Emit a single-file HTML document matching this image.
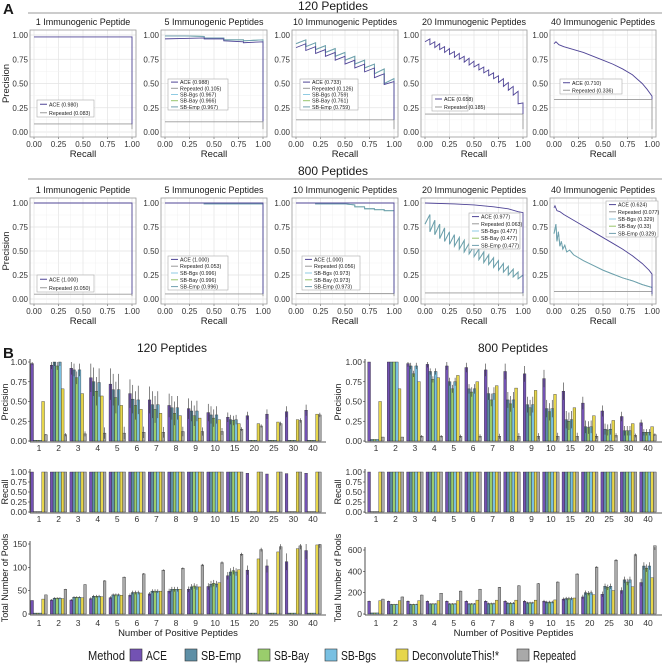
<!DOCTYPE html>
<html><head><meta charset="utf-8">
<style>
html,body{margin:0;padding:0;background:#fff;}
svg{display:block;font-family:"Liberation Sans",Arial,sans-serif;}
</style></head>
<body>
<svg id="fig" width="666" height="663" viewBox="0 0 666 663" xmlns="http://www.w3.org/2000/svg"></svg>
<script>
// ================= DATA: Panel A (precision-recall curves) =================
const aTitles = ["1 Immunogenic Peptide","5 Immunogenic Peptides","10 Immunogenic Peptides","20 Immunogenic Peptides","40 Immunogenic Peptides"];
const aTicks = [0, 0.25, 0.5, 0.75, 1];
const aTickLabels = ["0.00","0.25","0.50","0.75","1.00"];

// row 1 (120 peptides)
const r1Repeated = [0.083, 0.105, 0.126, 0.185, 0.336];
const r1p1Ace = [[0,0.98],[1,0.98],[1,0.08]];
const r1p2Ace = [[0,0.96],[0.2,0.965],[0.4,0.97],[0.4,0.96],[0.6,0.96],[0.6,0.94],[0.8,0.93],[0.8,0.92],[1,0.93],[1,0.11]];
const r1p2Sb = [[0,0.99],[0.2,0.99],[0.4,0.985],[0.4,0.97],[0.6,0.97],[0.6,0.95],[0.8,0.95],[0.8,0.94],[1,0.95],[1,0.11]];
const r1p3AceTops = [0.91,0.88,0.85,0.82,0.78,0.74,0.70,0.66,0.60,0.52];
const r1p3AceBots = [0.87,0.84,0.81,0.78,0.74,0.70,0.66,0.62,0.56,0.49];
const r1p3SbTops = [0.95,0.92,0.89,0.86,0.82,0.78,0.74,0.70,0.65,0.55];
const r1p3SbBots = [0.91,0.88,0.85,0.82,0.78,0.74,0.70,0.66,0.60,0.50];
const r1p4AceTops = [0.96,0.93,0.91,0.88,0.86,0.83,0.81,0.78,0.76,0.73,0.70,0.67,0.64,0.61,0.58,0.55,0.51,0.47,0.42,0.30];
const r1p4AceBots = [0.93,0.90,0.87,0.85,0.82,0.80,0.77,0.75,0.72,0.69,0.67,0.64,0.61,0.58,0.55,0.51,0.47,0.43,0.38,0.29];
const r1p5Ace = [[0,0.91],[0.02,0.93],[0.05,0.90],[0.1,0.88],[0.2,0.85],[0.3,0.82],[0.4,0.78],[0.5,0.74],[0.6,0.70],[0.7,0.65],[0.8,0.59],[0.9,0.50],[0.95,0.44],[1,0.37],[1,0.336]];

// row 2 (800 peptides)
const r2Repeated = [0.050, 0.053, 0.056, 0.063, 0.077];
const r2p1Ace = [[0,1.0],[1,1.0],[1,0.05]];
const r2p2Ace = [[0,1.0],[1,1.0],[1,0.053]];
const r2p2Sb = [[0,1.0],[0.4,1.0],[0.4,0.99],[1,0.99],[1,0.053]];
const r2p3Ace = [[0,1.0],[1,1.0],[1,0.056]];
const r2p3Sb = [[0,1.0],[0.2,1.0],[0.2,0.99],[0.5,0.99],[0.6,0.98],[0.6,0.96],[0.7,0.96],[0.7,0.94],[0.8,0.94],[0.8,0.93],[0.9,0.93],[0.9,0.92],[1,0.92],[1,0.056]];
const r2p4Ace = [[0,1.0],[0.3,0.99],[0.5,0.98],[0.7,0.96],[0.85,0.94],[0.95,0.91],[1,0.90],[1,0.063]];
const r2p4SbTops = [0.88,0.82,0.78,0.74,0.70,0.67,0.64,0.61,0.58,0.55,0.52,0.49,0.46,0.43,0.40,0.37,0.34,0.31,0.28,0.25];
const r2p4SbBots = [0.78,0.70,0.67,0.63,0.60,0.57,0.55,0.52,0.49,0.47,0.44,0.41,0.38,0.36,0.33,0.30,0.28,0.25,0.23,0.21];
const r2p5Ace = [[0,0.95],[0.01,0.97],[0.03,0.92],[0.06,0.91],[0.1,0.88],[0.2,0.82],[0.3,0.76],[0.4,0.70],[0.5,0.64],[0.6,0.58],[0.7,0.52],[0.8,0.45],[0.9,0.37],[0.97,0.30],[1,0.26],[1,0.05]];
const r2p5Sb = [[0,0.68],[0.02,0.78],[0.03,0.60],[0.045,0.70],[0.06,0.55],[0.075,0.60],[0.09,0.52],[0.11,0.56],[0.13,0.49],[0.16,0.51],[0.2,0.46],[0.3,0.40],[0.4,0.35],[0.5,0.30],[0.6,0.26],[0.7,0.22],[0.8,0.19],[0.9,0.15],[1,0.12],[1,0.05]];

const r1Legends = [
 [["ACE (0.980)","ace"],["Repeated (0.083)","rep"]],
 [["ACE (0.988)","ace"],["Repeated (0.105)","rep"],["SB-Bgs (0.967)","bgs"],["SB-Bay (0.966)","bay"],["SB-Emp (0.967)","emp"]],
 [["ACE (0.733)","ace"],["Repeated (0.126)","rep"],["SB-Bgs (0.759)","bgs"],["SB-Bay (0.761)","bay"],["SB-Emp (0.759)","emp"]],
 [["ACE (0.658)","ace"],["Repeated (0.185)","rep"]],
 [["ACE (0.710)","ace"],["Repeated (0.336)","rep"]]
];
const r2Legends = [
 [["ACE (1.000)","ace"],["Repeated (0.050)","rep"]],
 [["ACE (1.000)","ace"],["Repeated (0.053)","rep"],["SB-Bgs (0.996)","bgs"],["SB-Bay (0.996)","bay"],["SB-Emp (0.996)","emp"]],
 [["ACE (1.000)","ace"],["Repeated (0.056)","rep"],["SB-Bgs (0.973)","bgs"],["SB-Bay (0.973)","bay"],["SB-Emp (0.973)","emp"]],
 [["ACE (0.977)","ace"],["Repeated (0.063)","rep"],["SB-Bgs (0.477)","bgs"],["SB-Bay (0.477)","bay"],["SB-Emp (0.477)","emp"]],
 [["ACE (0.624)","ace"],["Repeated (0.077)","rep"],["SB-Bgs (0.329)","bgs"],["SB-Bay (0.33)","bay"],["SB-Emp (0.329)","emp"]]
];

// ================= DATA: Panel B (bar charts) =================
const categories = ["1","2","3","4","5","6","7","8","9","10","15","20","25","30","40"];
const methods = ["ACE","SB-Emp","SB-Bay","SB-Bgs","DeconvoluteThis!*","Repeated"];
const prec120Ace = [0.98,0.96,0.92,0.80,0.72,0.60,0.52,0.45,0.41,0.36,0.30,0.32,0.34,0.37,0.39];
const prec120Emp = [0.01,1.00,0.90,0.75,0.65,0.53,0.46,0.42,0.38,0.33,0.27,0.01,0.01,0.01,0.01];
const prec120Bay = [0.01,0.95,0.80,0.63,0.55,0.45,0.40,0.35,0.32,0.29,0.26,0.01,0.01,0.01,0.01];
const prec120Bgs = [0.01,1.00,0.90,0.74,0.65,0.52,0.46,0.42,0.38,0.33,0.27,0.01,0.01,0.01,0.01];
const prec120Dt  = [0.50,0.66,0.60,0.57,0.45,0.40,0.35,0.32,0.29,0.27,0.22,0.22,0.24,0.27,0.34];
const prec120Rep = [0.08,0.08,0.09,0.10,0.10,0.11,0.11,0.12,0.12,0.12,0.15,0.19,0.22,0.26,0.33];
const prec120Err = [0.02,0.05,0.08,0.18,0.20,0.18,0.17,0.15,0.13,0.11,0.06,0.05,0.06,0.07,0.07];
const prec800Ace = [1.00,1.00,0.98,0.97,0.95,0.93,0.90,0.88,0.85,0.79,0.63,0.48,0.38,0.31,0.23];
const prec800Emp = [0.02,1.00,0.95,0.88,0.75,0.66,0.60,0.52,0.46,0.41,0.27,0.18,0.15,0.13,0.11];
const prec800Bay = [0.02,1.00,0.85,0.78,0.66,0.62,0.52,0.47,0.42,0.37,0.25,0.17,0.14,0.13,0.11];
const prec800Bgs = [0.02,1.00,0.95,0.88,0.75,0.66,0.60,0.52,0.46,0.41,0.27,0.18,0.15,0.13,0.11];
const prec800Dt  = [0.50,0.66,0.75,0.80,0.83,0.75,0.70,0.67,0.64,0.59,0.42,0.32,0.26,0.22,0.18];
const prec800Rep = [0.05,0.05,0.06,0.06,0.06,0.06,0.06,0.06,0.06,0.06,0.06,0.06,0.07,0.07,0.08];
const prec800Err = [0.00,0.00,0.04,0.04,0.05,0.06,0.08,0.10,0.10,0.11,0.11,0.08,0.07,0.06,0.04];
const rec120Ace = [1,1,1,1,1,1,1,1,1,1,1,0.97,0.95,0.96,0.97];
const rec120Sb  = [0.01,1,1,1,1,1,1,1,1,1,1,0.01,0.01,0.01,0.01];
const rec120Dt  = [1,1,1,1,1,1,1,1,1,1,1,1,1,1,1];
const rec120Rep = [1,1,1,1,1,1,1,1,1,1,1,1,1,1,1];
const rec800Ace = [1,1,1,1,1,1,1,1,1,1,1,1,1,1,1];
const rec800Sb  = [0.01,1,1,1,1,1,1,1,1,1,1,1,1,1,1];
const rec800Dt  = [1,1,1,1,1,1,1,1,1,1,1,1,1,1,1];
const rec800Rep = [1,1,1,1,1,1,1,1,1,1,1,1,1,1,1];
const pools120Ace = [29,30,30,33,35,40,43,49,53,59,82,94,103,112,136];
const pools120Emp = [2,34,36,38,41,46,49,53,58,64,90,2,2,2,2];
const pools120Bay = [2,34,36,38,41,46,49,53,60,66,93,2,2,2,2];
const pools120Bgs = [2,34,36,38,41,46,49,53,58,64,90,2,2,2,2];
const pools120Dt  = [32,33,35,37,40,45,49,53,58,67,95,118,133,140,148];
const pools120Rep = [41,53,63,71,79,86,94,98,105,110,128,138,144,146,149];
const pools120Err = [0,2,2,3,3,4,4,5,6,7,8,10,14,18,18];
const pools800Ace = [120,120,120,120,120,120,120,120,120,120,140,160,185,220,295];
const pools800Emp = [10,90,90,95,95,95,98,102,105,112,145,200,260,320,450];
const pools800Bay = [10,90,90,95,95,95,98,102,105,112,145,195,250,300,430];
const pools800Bgs = [10,90,90,95,95,95,98,102,105,112,145,200,260,320,450];
const pools800Dt  = [125,125,125,125,125,130,130,130,130,132,150,180,220,255,340];
const pools800Rep = [140,160,178,195,215,232,250,265,285,300,375,440,505,555,640];
const pools800Err = [5,5,6,6,7,8,9,10,10,12,15,20,25,30,35];

const precTicks = [0,0.25,0.5,0.75,1];
const precTickLabels = ["0.00","0.25","0.50","0.75","1.00"];
const pools120Ticks = [0,50,100,150];
const pools800Ticks = [0,200,400,600];

// ================= RENDERING =================
const NS = "http://www.w3.org/2000/svg";
const svg = document.getElementById("fig");
function mk(tag, attrs, parent) {
  const e = document.createElementNS(NS, tag);
  for (const k in attrs) e.setAttribute(k, attrs[k]);
  (parent || svg).appendChild(e);
  return e;
}
function txt(s, x, y, size, anchor, parent, extra) {
  const t = mk("text", Object.assign({x:x, y:y, "font-size":size, "text-anchor":anchor||"start", fill:"#1a1a1a"}, extra||{}), parent);
  t.textContent = s;
  return t;
}
const lineCol = {ace:"#4f4496", rep:"#9a9a9a", bgs:"#8fcbe3", bay:"#98c46a", emp:"#6f9eae"};
const barCol = ["#7352b3","#5e8fa6","#9acd6c","#79c0e2","#e6d64b","#a9a9a9"];

// ---- Panel A ----
const aLabel = txt("A", 3, 14, 15, "start", svg, {"font-weight":"bold"});



const panelX = [30, 161, 292, 421, 550];
const rows = [
  {top:30, h:107, hdrY:13, hdrTxtY:10, titleY:25, label:"120 Peptides", rep:r1Repeated, leg:r1Legends,
   legBox:[[37,100,57,17],[168,79,60,31],[300,79,58,31],[432,95,36,16],[560,79,62,15]]},
  {top:198, h:106, hdrY:179, hdrTxtY:175, titleY:193, label:"800 Peptides", rep:r2Repeated, leg:r2Legends,
   legBox:[[37,275,57,17],[168,256,60,34],[302,256,58,34],[469,213,51,36],[606,201,52,36]]}
];
function sawPoints(tops, bots) {
  const n = tops.length, pts = [];
  for (let i = 0; i < n; i++) { pts.push([i/n, bots[i]]); pts.push([(i+1)/n, tops[i]]); }
  return pts;
}
rows.forEach(function(row, ri) {
  const hdr = txt(row.label, 333, row.hdrTxtY, 12, "middle");
  
  
  const hl = mk("line", {x1:28, x2:662, y1:row.hdrY, y2:row.hdrY, stroke:"#777", "stroke-width":0.8});
  
  
  for (let p = 0; p < 5; p++) {
    const x0 = panelX[p], w = 106, y0 = row.top, h = row.h;
    const sx = r => x0 + 4 + r * (w - 8);
    const sy = v => y0 + h - 5 - v * (h - 10);
    const g = mk("g", {});
    
    
    const tt = txt(aTitles[p], x0 + w/2, row.titleY, 9, "middle", g);
    
    
    mk("rect", {x:x0, y:y0, width:w, height:h, fill:"#fff"}, g);
    for (let k = 0; k < 9; k++) {
      const v = k / 8, major = k % 2 === 0;
      mk("line", {x1:sx(v), x2:sx(v), y1:y0, y2:y0+h, stroke:major?"#e3e3e3":"#f1f1f1", "stroke-width":major?0.7:0.5}, g);
      mk("line", {x1:x0, x2:x0+w, y1:sy(v), y2:sy(v), stroke:major?"#e3e3e3":"#f1f1f1", "stroke-width":major?0.7:0.5}, g);
    }
    aTicks.forEach(function(v, i) {
      const xl = txt(aTickLabels[i], sx(v), y0 + h + 10, 8, "middle", g, {fill:"#333"});
      
      
      mk("line", {x1:sx(v), x2:sx(v), y1:y0+h, y2:y0+h+2, stroke:"#555", "stroke-width":0.6}, g);
      const yl = txt(aTickLabels[i], x0 - 2, sy(v) + 3, 8, "end", g, {fill:"#333"});
      
      
    });
    const xt = txt("Recall", x0 + w/2, y0 + h + 20, 9.5, "middle", g);
    
    
    if (p === 0) {
      const yt = txt("Precision", 0, 0, 9.5, "middle", g, {transform:"translate(9," + (y0+h/2) + ") rotate(-90)"});
      
      
    }
    function drawLine(pts, key) {
      const d = pts.map((q, i) => (i ? "L" : "M") + sx(q[0]).toFixed(2) + "," + sy(q[1]).toFixed(2)).join("");
      const pa = mk("path", {d:d, fill:"none", stroke:lineCol[key], "stroke-width":0.9}, g);
      
      
    }
    const rep = row.rep[p];
    drawLine([[0,rep],[1,rep],[1,0.03]], "rep");
    let ace, sb = null;
    if (ri === 0) {
      if (p === 0) ace = r1p1Ace;
      if (p === 1) { ace = r1p2Ace; sb = r1p2Sb; }
      if (p === 2) { ace = sawPoints(r1p3AceTops, r1p3AceBots).concat([[1, rep]]); sb = sawPoints(r1p3SbTops, r1p3SbBots).concat([[1, rep]]); }
      if (p === 3) ace = [[0,0.93]].concat(sawPoints(r1p4AceTops, r1p4AceBots).slice(1)).concat([[1, rep]]);
      if (p === 4) ace = r1p5Ace;
    } else {
      if (p === 0) ace = r2p1Ace;
      if (p === 1) { ace = r2p2Ace; sb = r2p2Sb; }
      if (p === 2) { ace = r2p3Ace; sb = r2p3Sb; }
      if (p === 3) { ace = r2p4Ace; sb = sawPoints(r2p4SbTops, r2p4SbBots).concat([[1, 0.06]]); }
      if (p === 4) { ace = r2p5Ace; sb = r2p5Sb; }
    }
    if (sb) { drawLine(sb, "bay"); drawLine(sb, "bgs"); drawLine(sb, "emp"); }
    drawLine(ace, "ace");
    mk("rect", {x:x0, y:y0, width:w, height:h, fill:"none", stroke:"#9a9a9a", "stroke-width":0.8}, g);
    const lb = row.legBox[p];
    const lg = mk("g", {}, g);
    
    
    mk("rect", {x:lb[0], y:lb[1], width:lb[2], height:lb[3], fill:"#fff", stroke:"#aaa", "stroke-width":0.6}, lg);
    const ents = row.leg[p];
    const step = lb[3] / ents.length;
    ents.forEach(function(e, i) {
      const yy = lb[1] + step * (i + 0.5);
      const ln = mk("line", {x1:lb[0]+3, x2:lb[0]+10, y1:yy, y2:yy, stroke:lineCol[e[1]], "stroke-width":1}, lg);
      
      
      const lt = txt(e[0], lb[0]+12, yy + 2, 5.3, "start", lg);
      
      
    });
  }
});

// ---- Panel B ----
const bLabel = txt("B", 3, 358, 15, "start", svg, {"font-weight":"bold"});



const sides = [
  {axisX:30, endX:326, cat0:39, step:19.57, title:"120 Peptides", titleX:172, yTitleX:8,
   prec:[prec120Ace,prec120Emp,prec120Bay,prec120Bgs,prec120Dt,prec120Rep], precErr:prec120Err,
   rec:[rec120Ace,rec120Sb,rec120Sb,rec120Sb,rec120Dt,rec120Rep],
   pools:[pools120Ace,pools120Emp,pools120Bay,pools120Bgs,pools120Dt,pools120Rep], poolsErr:pools120Err,
   poolsMax:150, poolsMaxY:544, poolsTicks:pools120Ticks, tag:"120"},
  {axisX:365, endX:662, cat0:376, step:19.43, title:"800 Peptides", titleX:513, yTitleX:341,
   prec:[prec800Ace,prec800Emp,prec800Bay,prec800Bgs,prec800Dt,prec800Rep], precErr:prec800Err,
   rec:[rec800Ace,rec800Sb,rec800Sb,rec800Sb,rec800Dt,rec800Rep],
   pools:[pools800Ace,pools800Emp,pools800Bay,pools800Bgs,pools800Dt,pools800Rep], poolsErr:pools800Err,
   poolsMax:600, poolsMaxY:550, poolsTicks:pools800Ticks, tag:"800"}
];
sides.forEach(function(s) {
  const st = txt(s.title, s.titleX, 352, 12, "middle");
  
  
  const cx = i => s.cat0 + i * s.step;
  const bw = 2.75;
  function barChart(name, vals, err, y0px, yTop, vmax, ticks, tickLabels, xLabelY, yTitle, yTitleY) {
    const g = mk("g", {});
    
    
    const sy = v => y0px - (v / vmax) * (y0px - yTop);
    vals.forEach(function(series, m) {
      series.forEach(function(v, i) {
        const x = cx(i) - 3 * bw + m * bw;
        const r = mk("rect", {x:x.toFixed(2), y:sy(v).toFixed(2), width:bw, height:Math.max(0.3, y0px - sy(v)).toFixed(2), fill:barCol[m], stroke:"#222", "stroke-width":0.35}, g);
        
        
        if (err && m !== 4 && v > 0.02 * vmax && err[i] > 0) {
          const e = m === 5 ? err[i] * 0.4 : err[i];
          const xm = x + bw / 2;
          mk("line", {x1:xm, x2:xm, y1:sy(Math.max(0, v - e)), y2:sy(Math.min(vmax, v + e)), stroke:"#333", "stroke-width":0.6}, g);
        }
      });
    });
    mk("line", {x1:s.axisX, x2:s.axisX, y1:yTop - 3, y2:y0px + 1, stroke:"#222", "stroke-width":0.8}, g);
    mk("line", {x1:s.axisX, x2:s.endX, y1:y0px + 1, y2:y0px + 1, stroke:"#222", "stroke-width":0.8}, g);
    ticks.forEach(function(v, i) {
      const tl = txt(tickLabels[i], s.axisX - 3, sy(v) + 3, 8.5, "end", g, {fill:"#333"});
      
      
      mk("line", {x1:s.axisX - 2, x2:s.axisX, y1:sy(v), y2:sy(v), stroke:"#333", "stroke-width":0.6}, g);
    });
    categories.forEach(function(c, i) {
      const cl = txt(c, cx(i), xLabelY, 8.5, "middle", g, {fill:"#333"});
      
      
    });
    const yt = txt(yTitle, 0, 0, 9, "middle", g, {transform:"translate(" + s.yTitleX + "," + yTitleY + ") rotate(-90)"});
    
    
  }
  barChart("precision-chart", s.prec, s.precErr, 441, 362, 1, precTicks, precTickLabels, 451, "Precision", 402);
  barChart("recall-chart", s.rec, null, 512, 472, 1, precTicks, precTickLabels, 522, "Recall", 492);
  barChart("pools-chart", s.pools, s.poolsErr, 614, s.poolsMaxY, s.poolsMax, s.poolsTicks, s.poolsTicks.map(String), 626, "Total Number of Pools", 578);
  const xt = txt("Number of Positive Peptides", (s.axisX + s.endX) / 2, 636, 9.5, "middle");
  
  
});

// ---- Legend ----
const legendX = [130, 185, 258, 325, 396, 517];
const legendTextW = [21, 40, 35, 35, 87, 43];
const lgd = mk("g", {});


const lt0 = txt("Method", 88, 660, 13, "start", lgd, {textLength:37, lengthAdjust:"spacingAndGlyphs"});


methods.forEach(function(m, i) {
  const r = mk("rect", {x:legendX[i], y:649, width:12, height:12, fill:barCol[i], stroke:"#333", "stroke-width":0.6}, lgd);
  
  
  const t = txt(m, legendX[i] + 16, 660, 13, "start", lgd, {textLength:legendTextW[i], lengthAdjust:"spacingAndGlyphs"});
  
  
});
</script>
</body></html>
